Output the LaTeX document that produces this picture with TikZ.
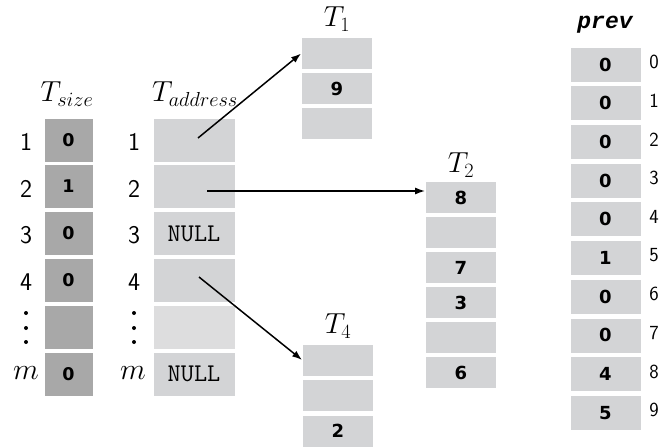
\documentclass[tikz,border=0pt]{standalone}
\usepackage{fix-cm}
\usepackage{fontspec}
\usetikzlibrary{arrows.meta}
\newfontfamily\cellfont{DejaVu Sans}
\newfontfamily\codefont{Liberation Mono}
\definecolor{darkcell}{RGB}{168,168,168}
\definecolor{lightcell}{RGB}{211,212,214}
\definecolor{palecell}{RGB}{221,221,222}
\begin{document}
\begin{tikzpicture}[x=1pt,y=-1pt,
  cell/.style={draw=white,line width=0.8pt,inner sep=0pt,anchor=center},
  sizecell/.style={cell,fill=darkcell,minimum width=49pt,minimum height=44pt,
    font=\fontsize{17.5}{17.5}\cellfont\bfseries},
  addrcell/.style={cell,fill=lightcell,minimum width=82pt,minimum height=44pt,
    font=\fontsize{25.5}{25.5}\ttfamily},
  listcell/.style={cell,fill=lightcell,minimum width=71pt,minimum height=32pt,
    font=\fontsize{18}{18}\cellfont\bfseries},
  prevcell/.style={cell,fill=lightcell,minimum width=71pt,minimum height=35pt,
    font=\fontsize{18}{18}\cellfont\bfseries},
  rowlab/.style={font=\fontsize{25.5}{25.5}\sffamily},
  mlab/.style={font=\fontsize{30}{30}\selectfont},
  idxlab/.style={font=\fontsize{20}{20}\sffamily},
  title/.style={font=\fontsize{29}{29}\selectfont},
  dot/.style={fill=black},
  ptr/.style={line width=1.5pt,-{Latex[length=10pt,width=7pt]}}]
\useasboundingbox (0,0) rectangle (662,447);

% T_size column
\node[title] (tsize) at (67,94) {$T_{size}$};
\node[sizecell] (s1) at (68.5,140) {0};
\node[sizecell] (s2) at (68.5,186.5) {1};
\node[sizecell] (s3) at (68.5,233.5) {0};
\node[sizecell] (s4) at (68.5,280.5) {0};
\node[sizecell] (s5) at (68.5,327) {};
\node[sizecell] (s6) at (68.5,374) {0};
\node[rowlab] (l1) at (26,142) {1};
\node[rowlab] (l2) at (26,188.5) {2};
\node[rowlab] (l3) at (26,235.5) {3};
\node[rowlab] (l4) at (26,282.5) {4};
\node[mlab] (l6) at (26,373) {$m$};

% T_address column
\node[title] (taddr) at (195,94) {$T_{address}$};
\node[addrcell] (a1) at (194,140) {};
\node[addrcell] (a2) at (194,186.5) {};
\node[addrcell] (a3) at (194,233.5) {NULL};
\node[addrcell] (a4) at (194,280.5) {};
\node[addrcell,fill=palecell] (a5) at (194,327) {};
\node[addrcell] (a6) at (194,374) {NULL};
\node[rowlab] (m1) at (134,142) {1};
\node[rowlab] (m2) at (134,188.5) {2};
\node[rowlab] (m3) at (134,235.5) {3};
\node[rowlab] (m4) at (134,282.5) {4};
\node[mlab] (m6) at (133,373) {$m$};

% vertical dots for the rows in between
\foreach \xx in {26,134}{
  \foreach \yy in {313,328,342}{
    \fill[dot] (\xx,\yy) circle (2pt);
  }
}

% list T_1
\node[title] (t1) at (337,19) {$T_1$};
\node[listcell] (p1) at (337,53.5) {};
\node[listcell] (p2) at (337,88.5) {\raisebox{-3pt}{9}};
\node[listcell] (p3) at (337,123.5) {};

% list T_2
\node[title] (t2) at (461,165) {$T_2$};
\node[listcell] (q1) at (461,197.5) {\raisebox{-3pt}{8}};
\node[listcell] (q2) at (461,232.5) {};
\node[listcell] (q3) at (461,267.5) {\raisebox{-3pt}{7}};
\node[listcell] (q4) at (461,302.5) {\raisebox{-3pt}{3}};
\node[listcell] (q5) at (461,337.5) {};
\node[listcell] (q6) at (461,372.5) {\raisebox{-3pt}{6}};

% list T_4
\node[title] (t4) at (338,326) {$T_4$};
\node[listcell] (r1) at (338,360) {};
\node[listcell] (r2) at (338,395) {};
\node[listcell] (r3) at (338,431) {\raisebox{-3pt}{2}};

% prev array
\node[font=\fontsize{23}{23}\codefont\bfseries\itshape] (prev) at (605,25) {prev};
\foreach \v [count=\i from 0] in {0,0,0,0,0,1,0,0,4,5}{
  \node[prevcell] (v\i) at (605.5,{64.5+38.7*\i}) {\raisebox{-3pt}{\v}};
  \node[idxlab] (n\i) at (654,{62+38.7*\i}) {\i};
}

% pointers
\coordinate (o1) at (198,138);
\coordinate (o2) at (207,191);
\coordinate (o4) at (199,277);
\draw[ptr] (o1) -- (p1.west);
\draw[ptr] (o2) -- (o2 -| q1.west);
\draw[ptr] (o4) -- (r1.west);
\end{tikzpicture}
\end{document}
